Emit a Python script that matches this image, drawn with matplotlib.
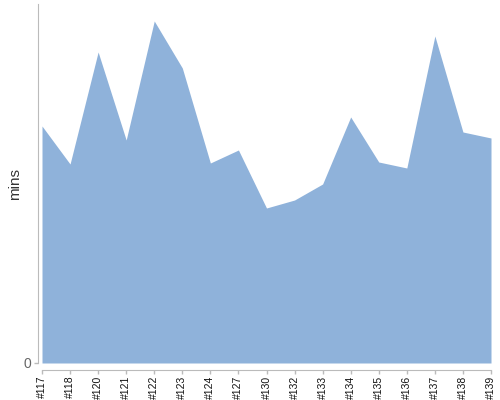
import matplotlib
matplotlib.use("Agg")
import matplotlib.pyplot as plt

# build ids and minutes (arbitrary scale)
builds = ["#117", "#118", "#120", "#121", "#122", "#123", "#124", "#127", "#130",
          "#132", "#133", "#134", "#135", "#136", "#137", "#138", "#139"]
mins = [237, 199, 311, 223, 342, 295, 200, 213, 155,
        163, 179, 246, 201, 195, 327, 231, 225]

plt.rcParams['font.family'] = ['Liberation Sans', 'DejaVu Sans']

fig = plt.figure(figsize=(5, 4), dpi=100)
ax = fig.add_axes([0.084, 0.0925, 0.898, 0.8975])

x = range(len(builds))
ax.fill_between(x, mins, 0, color="#8fb2da", linewidth=0)

ax.set_xlim(0, len(builds) - 1)
ax.set_ylim(0, 359)

for s in ["top", "right"]:
    ax.spines[s].set_visible(False)
ax.spines["left"].set_position(("outward", 3))
ax.spines["bottom"].set_position(("outward", 5))
ax.spines["left"].set_color("#bbbbbb")
ax.spines["bottom"].set_color("#bbbbbb")
ax.tick_params(axis="both", colors="#bbbbbb", length=3, width=1)
ax.tick_params(axis="x", labelcolor="#111111", pad=1, labelrotation=90, labelsize=7.5)
ax.tick_params(axis="y", labelcolor="#666666", pad=2, labelsize=10)

ax.set_xticks(list(x))
ax.set_xticklabels(builds)
ax.set_yticks([0])
ax.set_yticklabels(["0"])
ax.set_ylabel("mins", fontsize=11, color="#333333", labelpad=1)

fig.savefig("out.png", dpi=100)
